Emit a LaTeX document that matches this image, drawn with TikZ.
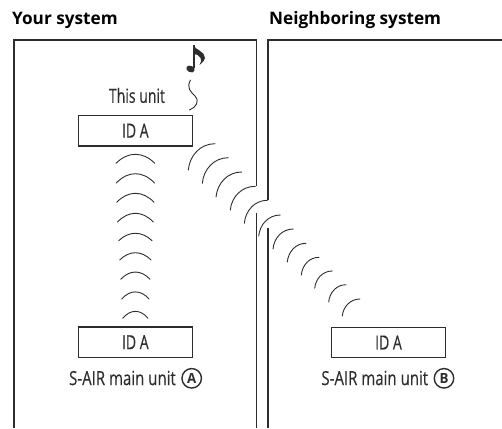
\documentclass[tikz,border=0pt]{standalone}
\usepackage{fontspec}
\setmainfont[FakeStretch=0.72,FakeBold=0.25]{Open Sans}
\newfontfamily\unitfont[FakeStretch=0.77,FakeBold=0.25]{Open Sans}
\newfontfamily\headfont[FakeStretch=1.0]{Open Sans}
\newfontfamily\badgefont[FakeStretch=0.95]{Open Sans}
\definecolor{ink}{RGB}{45,45,45}
\tikzset{
  frameline/.style={draw=ink,line width=1.1pt},
  unitbox/.style={draw=ink,line width=1.1pt,fill=white,minimum width=113.5pt,minimum height=30.5pt,inner sep=0pt,font=\fontsize{19.5}{21}\selectfont,text=ink},
  wave/.style={draw=ink,line width=0.9pt,line cap=round},
  label/.style={font=\fontsize{19.5}{21}\selectfont,text=ink,inner sep=0pt},
  unitlabel/.style={font=\unitfont\fontsize{19.5}{21}\selectfont,text=ink,inner sep=0pt,anchor=east},
  heading/.style={font=\headfont\bfseries\fontsize{17.2}{19}\selectfont,text=black,inner sep=0pt,anchor=west},
  badge/.style={circle,draw=ink,line width=1.4pt,inner sep=0pt,minimum size=19.5pt,font=\badgefont\bfseries\fontsize{14}{14}\selectfont,text=ink}
}
\newcommand{\varc}[3]{\draw[wave] (#1,#3) .. controls ({#1+0.62*(135.4-#1)},{#2}) and ({135.4+0.38*(135.4-#1)},{#2}) .. ({2*135.4-#1},#3);}
\newcommand{\darc}[4]{\draw[wave] (#1,#2) .. controls ({#1+0.05*(#3-#1)},{#2+0.55*(#4-#2)}) and ({#1+0.45*(#3-#1)},{#4}) .. (#3,#4);}
\begin{document}
\begin{tikzpicture}[x=1pt,y=-1pt]
\useasboundingbox (0,0) rectangle (502,428);
\node[heading] (h1) at (12,20.5) {Your system};
\node[heading] (h2) at (269,20.5) {Neighboring system};
% frames
\draw[frameline] (14,428) -- (14,40) -- (256.5,40) -- (256.5,186);
\draw[frameline] (256.5,212.5) -- (256.5,428);
\draw[frameline] (268,200) -- (268,40) -- (502,40);
\draw[frameline] (268,228) -- (268,428);
% units
\node[unitbox] (u1) at (135.3,130.7) {ID A};
\node[unitbox] (u2) at (135.3,342.2) {ID A};
\node[unitbox] (u3) at (388.5,342.5) {ID A};
\node[label] (t1) at (137,95.5) {This unit};
\node[unitlabel] (t2) at (176,378) {S-AIR main unit};
\node[badge] (b1) at (191.7,378.3) {A};
\node[unitlabel] (t3) at (428.3,378) {S-AIR main unit};
\node[badge] (b2) at (444,378.3) {B};
% note
\fill[ink,rotate around={-25:(190.5,69)}] (190.5,69) ellipse (4.4pt and 3.2pt);
\draw[ink,line width=1.4pt] (193.9,68) -- (193.9,45.5);
\fill[ink] (193.3,45) .. controls (195,50) and (205,51) .. (205,58) .. controls (205,60) and (203,62) .. (199.5,65) .. controls (201,62) and (202,60) .. (200.5,58) .. controls (199,55) and (196,54) .. (194,54) -- cycle;
% squiggle
\draw[wave] (190.5,80) .. controls (186,88) and (191,92) .. (195,96) .. controls (200,102) and (196,107) .. (189.5,110);
% vertical waves
\varc{116}{151.3}{163.3}
\varc{116.3}{170.6}{183}
\varc{116.7}{190.3}{202.3}
\varc{117.5}{210.4}{222}
\varc{118.7}{230.8}{240.7}
\varc{119.7}{250.3}{260}
\varc{120.7}{269.6}{279.3}
\varc{121.7}{289.5}{299}
\varc{122.7}{309}{318.3}
% diagonal waves
\darc{188.3}{170}{215}{143.7}
\darc{202.3}{183.3}{228.3}{157.7}
\darc{216}{197}{241.7}{172}
\darc{230.3}{210}{255.3}{186.3}
\darc{244.3}{223.3}{267.3}{200.3}
\darc{258.7}{236}{280.3}{215}
\darc{273}{249}{293.3}{229}
\darc{287.3}{262}{306}{243.3}
\darc{301.3}{275}{319}{257.3}
\darc{314.7}{288.3}{332.3}{271}
\darc{328.7}{302}{346}{284.7}
\darc{342.3}{316}{360}{299}
\end{tikzpicture}
\end{document}
